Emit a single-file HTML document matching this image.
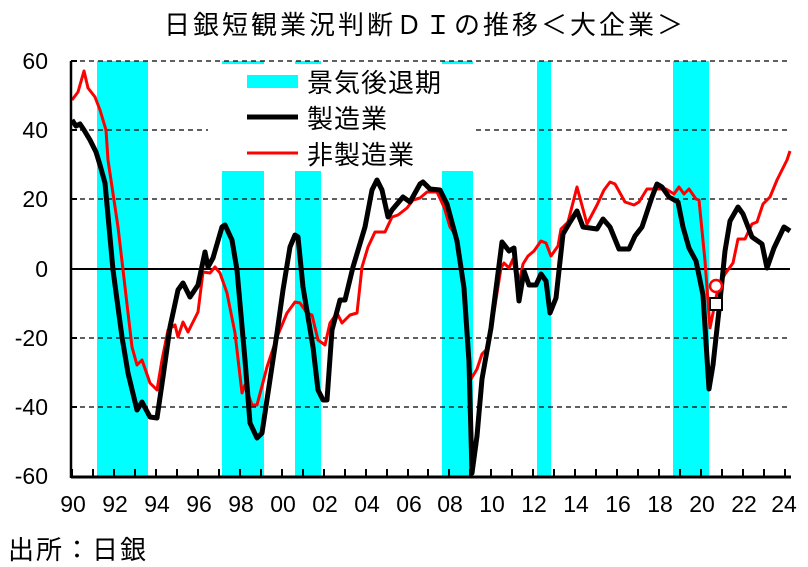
<!DOCTYPE html><html><head><meta charset="utf-8"><style>
body{margin:0;background:#fff}
svg{display:block}
.t{font-family:"Liberation Sans","Noto Sans CJK JP",sans-serif}
</style></head><body>
<svg width="808" height="567" xmlns="http://www.w3.org/2000/svg">
<g fill="#00ffff">
<rect x="97" y="61" width="51" height="416"/>
<rect x="222" y="61" width="42" height="416"/>
<rect x="295" y="61" width="26" height="416"/>
<rect x="442" y="61" width="31" height="416"/>
<rect x="537" y="61" width="14" height="416"/>
<rect x="673" y="61" width="36" height="416"/>
</g>
<g stroke="#000" stroke-width="1.3" stroke-dasharray="5,4">
<line x1="71" y1="61" x2="790" y2="61"/>
<line x1="71" y1="130" x2="790" y2="130"/>
<line x1="71" y1="199" x2="790" y2="199"/>
<line x1="71" y1="338" x2="790" y2="338"/>
<line x1="71" y1="407" x2="790" y2="407"/>
</g>
<rect x="208" y="64" width="268" height="107" fill="#fff"/>
<line x1="71" y1="269" x2="790" y2="269" stroke="#000" stroke-width="2"/>
<polyline fill="none" stroke="#f00" stroke-width="3" stroke-linejoin="round" points="72,100 78,92 84,71 88,88 95,97 100,110 106,130 108,160 118,227 132,347 137,365 142,360 150,383 157,390 162,360 168,330 175,325 178,337 183,322 188,332 198,312 203,272 210,273 215,267 220,273 227,293 235,333 242,393 245,385 252,405 257,405 267,367 277,337 287,313 295,302 300,303 307,313 312,315 318,340 325,345 330,323 337,313 342,323 350,315 357,313 362,267 368,247 375,232 385,232 392,217 398,215 407,208 413,200 420,198 427,192 437,192 444,207 450,227 455,234 462,271 471,379 477,369 482,354 487,349 494,312 501,268 504,263 509,268 513,259 518,288 523,264 528,256 534,251 541,241 546,243 551,256 558,246 561,229 568,222 577,187 587,224 597,205 604,190 610,182 615,184 625,202 634,205 639,202 647,189 666,189 674,194 679,187 684,194 689,189 696,199 699,200 705,261 710,328 718,288 725,274 733,263 738,239 745,239 752,224 757,222 763,204 770,197 777,180 787,160 790,151"/>
<polyline fill="none" stroke="#000" stroke-width="5" stroke-linejoin="round" points="72,120 76,126 80,124 84,130 90,140 96,152 100,165 105,183 113,270 122,337 128,373 137,410 142,402 150,417 157,418 163,377 170,327 178,290 183,283 190,297 198,285 205,252 208,267 213,258 222,227 225,225 232,240 237,270 245,360 250,423 257,438 262,433 268,393 277,333 283,290 290,247 295,235 298,237 303,287 313,347 318,390 323,400 327,400 332,330 340,300 345,300 353,267 365,227 372,190 377,180 382,190 388,217 392,210 403,197 410,202 420,184 423,182 430,189 440,190 447,204 457,241 464,288 469,362 472,473 477,436 482,379 491,328 502,242 509,251 514,248 519,301 524,271 529,285 536,285 541,274 546,281 550,313 556,298 563,234 570,222 577,211 583,227 597,229 603,219 610,227 619,249 629,249 635,236 642,227 652,197 657,184 662,187 669,197 678,202 683,227 689,248 696,261 703,295 709,389 713,365 720,301 725,251 730,221 738,207 743,214 752,237 762,244 767,268 774,248 784,227 790,231"/>
<circle cx="716" cy="286" r="6" fill="#fff" stroke="#f00" stroke-width="2.5"/>
<rect x="710" y="298" width="12" height="12" fill="#fff" stroke="#000" stroke-width="2"/>
<line x1="71" y1="61" x2="71" y2="478" stroke="#000" stroke-width="2.5"/>
<line x1="71" y1="477" x2="791" y2="477" stroke="#000" stroke-width="3"/>
<g stroke="#000" stroke-width="2">
<line x1="71" y1="61" x2="77" y2="61"/><line x1="71" y1="130" x2="77" y2="130"/><line x1="71" y1="199" x2="77" y2="199"/><line x1="71" y1="338" x2="77" y2="338"/><line x1="71" y1="407" x2="77" y2="407"/>
<path d="M72 477v-8M93 477v-8M114 477v-8M135 477v-8M156 477v-8M177 477v-8M198 477v-8M219 477v-8M240 477v-8M261 477v-8M282 477v-8M303 477v-8M324 477v-8M345 477v-8M366 477v-8M387 477v-8M408 477v-8M428 477v-8M449 477v-8M470 477v-8M491 477v-8M512 477v-8M533 477v-8M554 477v-8M575 477v-8M596 477v-8M617 477v-8M638 477v-8M659 477v-8M680 477v-8M701 477v-8M722 477v-8M743 477v-8M764 477v-8M785 477v-8"/>
</g>
<rect x="247" y="75" width="51" height="13" fill="#00ffff"/>
<line x1="247" y1="117" x2="298" y2="117" stroke="#000" stroke-width="5"/>
<line x1="247" y1="153" x2="298" y2="153" stroke="#f00" stroke-width="3"/>
<g class="t" font-size="26" fill="#000">
<text x="307" y="92" letter-spacing="1">景気後退期</text>
<text x="307" y="128" letter-spacing="1">製造業</text>
<text x="307" y="164" letter-spacing="1">非製造業</text>
<text x="425" y="34" text-anchor="middle" font-size="26" letter-spacing="3">日銀短観業況判断ＤＩの推移＜大企業＞</text>
<text x="8" y="559" font-size="26" letter-spacing="2">出所：日銀</text>
</g>
<g class="t" font-size="23" fill="#000" text-anchor="end">
<text x="48" y="69">60</text>
<text x="48" y="138">40</text>
<text x="48" y="207">20</text>
<text x="48" y="277">0</text>
<text x="48" y="346">-20</text>
<text x="48" y="415">-40</text>
<text x="48" y="484">-60</text>
</g>
<g class="t" font-size="23" fill="#000" text-anchor="middle">
<text x="73" y="512">90</text><text x="115" y="512">92</text><text x="157" y="512">94</text><text x="199" y="512">96</text><text x="241" y="512">98</text><text x="283" y="512">00</text><text x="325" y="512">02</text><text x="367" y="512">04</text><text x="409" y="512">06</text><text x="450" y="512">08</text><text x="492" y="512">10</text><text x="534" y="512">12</text><text x="576" y="512">14</text><text x="618" y="512">16</text><text x="660" y="512">18</text><text x="702" y="512">20</text><text x="744" y="512">22</text><text x="784" y="512">24</text>
</g>
</svg>
</body></html>
